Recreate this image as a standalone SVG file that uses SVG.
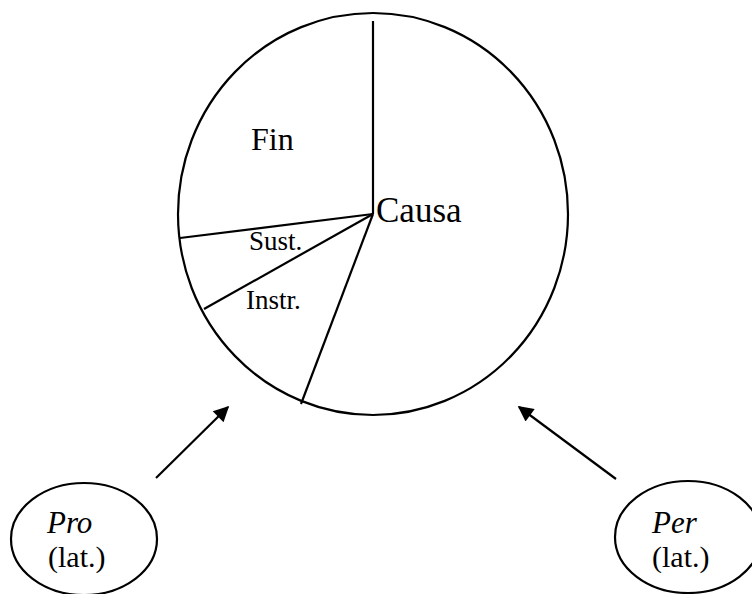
<svg xmlns="http://www.w3.org/2000/svg" width="752" height="594" viewBox="0 0 752 594">
<style>
.ln{stroke:#000;stroke-width:2.2;fill:none}
text{font-family:"Liberation Serif","Times New Roman",serif;fill:#000}
.it{font-style:italic}
</style>
<defs>
<marker id="ah" viewBox="0 0 10 10" refX="9" refY="5" markerWidth="8" markerHeight="7" markerUnits="strokeWidth" orient="auto">
<path d="M0,0 L10,5 L0,10 z" fill="#000"/>
</marker>
</defs>
<rect width="752" height="594" fill="#fff"/>
<g id="causa">
<ellipse class="ln" cx="373" cy="214" rx="195" ry="201" stroke-width="2.5"/>
<line class="ln" x1="373" y1="21" x2="373" y2="214"/>
<line class="ln" x1="373" y1="214" x2="180" y2="238"/>
<line class="ln" x1="373" y1="214" x2="204" y2="309"/>
<line class="ln" x1="373" y1="214" x2="301" y2="404"/>
<text font-family="Liberation Serif, serif" x="251" y="150" font-size="32">Fin</text>
<text font-family="Liberation Serif, serif" x="376" y="222" font-size="35">Causa</text>
<text font-family="Liberation Serif, serif" x="249" y="250" font-size="27">Sust.</text>
<text font-family="Liberation Serif, serif" x="246" y="309" font-size="27">Instr.</text>
</g>
<g id="pro">
<ellipse class="ln" cx="84" cy="539" rx="73" ry="56"/>
<text font-family="Liberation Serif, serif" class="it" x="47" y="533" font-size="31">Pro</text>
<text font-family="Liberation Serif, serif" x="48" y="567" font-size="30">(lat.)</text>
</g>
<g id="per">
<ellipse class="ln" cx="688" cy="537" rx="73" ry="56"/>
<text font-family="Liberation Serif, serif" class="it" x="652" y="533" font-size="31">Per</text>
<text font-family="Liberation Serif, serif" x="652" y="567" font-size="30">(lat.)</text>
</g>
<g id="connectors">
<line class="ln" x1="156" y1="478" x2="228" y2="407" marker-end="url(#ah)"/>
<line class="ln" x1="616" y1="479" x2="519" y2="407" marker-end="url(#ah)"/>
</g>
</svg>
